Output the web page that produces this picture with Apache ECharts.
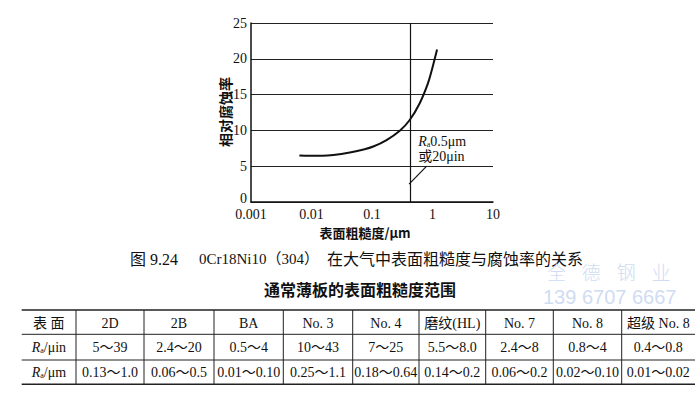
<!DOCTYPE html>
<html><head><meta charset="utf-8">
<script src="https://cdn.jsdelivr.net/npm/echarts@6/dist/echarts.min.js"></script>
<style>html,body{margin:0;padding:0;background:#fff}#c{width:700px;height:394px}</style>
</head><body><div id="c"></div>
<script>
// ---- data ----
const roughness     = [0.0063, 0.0095, 0.015, 0.023, 0.043, 0.07, 0.105, 0.174, 0.288, 0.42, 0.615, 0.843, 1.0, 1.19];
const corrosionRate = [6.5,    6.45,   6.45,  6.55,  6.9,   7.3,  7.75,  8.65,  9.95,  11.45, 13.8, 16.6, 18.8, 21.3];
const xTickLabels = ['0.001', '0.01', '0.1', '1', '10'];
const yTickLabels = ['0', '5', '10', '15', '20', '25'];
const refLineX = 0.43;
const leaderLine = [[0.41, 2.5], [0.8, 5.0]];
const noteAnchor = [0.59, 7.4];
const yAxisName = '相对腐蚀率';
const xAxisName = '表面粗糙度/μm';
const captionParts = ['图 9.24', '0Cr18Ni10（304）', '在大气中表面粗糙度与腐蚀率的关系'];
const tableTitle = '通常薄板的表面粗糙度范围';
const tableHeader = ['表 面', '2D', '2B', 'BA', 'No. 3', 'No. 4', '磨纹(HL)', 'No. 7', 'No. 8', '超级 No. 8'];
const rowLabels = ['{i|R}{s|a}{n|/μin}', '{i|R}{s|a}{n|/μm}'];
const rowUin = ['5～39', '2.4～20', '0.5～4', '10～43', '7～25', '5.5～8.0', '2.4～8', '0.8～4', '0.4～0.8'];
const rowUm  = ['0.13～1.0', '0.06～0.5', '0.01～0.10', '0.25～1.1', '0.18～0.64', '0.14～0.2', '0.06～0.2', '0.02～0.10', '0.01～0.02'];
const watermark1 = '全   德   钢   业';
const watermark2 = '139 6707 6667';

// ---- layout ----
const SERIF = '"Liberation Serif","Noto Sans CJK SC",serif';
const colEdges = [21.7, 76, 144, 214, 283.3, 352.7, 419, 485.7, 553.3, 621.7, 695];
const rowLines = [310, 334.3, 360, 384.3];
const rowCenters = [323, 347.5, 372];
const captionX = [130, 199, 327];
const captionFont = ['16px ' + SERIF, '15px ' + SERIF, '16px ' + SERIF];

const chart = echarts.init(document.getElementById('c'), null, {renderer: 'svg'});

const graphics = [];
// axis names
graphics.push({type:'text', x:225, y:112, rotation: Math.PI/2, style:{text:yAxisName, font:'bold 14px "Noto Sans CJK SC"', fill:'#111', align:'center', verticalAlign:'middle'}});
graphics.push({type:'text', x:365, y:232, style:{text:xAxisName, font:'bold 13px "Noto Sans CJK SC"', fill:'#111', align:'center', verticalAlign:'middle'}});
// caption
captionParts.forEach((t, i) => {
  graphics.push({type:'text', x:captionX[i], y:259, style:{text:t, font:captionFont[i], fill:'#111', align:'left', verticalAlign:'middle'}});
});
// watermark
graphics.push({type:'text', x:547, y:273, style:{text:watermark1, font:'300 19px "Liberation Sans","Noto Sans CJK SC"', fill:'#d0dcf2', align:'left', verticalAlign:'middle'}});
graphics.push({type:'text', x:543, y:297, style:{text:watermark2, font:'20px "Liberation Sans"', fill:'#d0dcf2', align:'left', verticalAlign:'middle'}});
// table title
graphics.push({type:'text', x:360, y:289, style:{text:tableTitle, font:'bold 16px "Noto Sans CJK SC"', fill:'#111', align:'center', verticalAlign:'middle'}});
// table lines
rowLines.forEach((y, i) => {
  const thick = (i === 0 || i === rowLines.length - 1);
  graphics.push({type:'line', shape:{x1:colEdges[0], y1:y, x2:colEdges[colEdges.length-1], y2:y}, style:{stroke:'#222', lineWidth: thick ? 1.6 : 1}});
});
for (let i = 1; i < colEdges.length - 1; i++) {
  graphics.push({type:'line', shape:{x1:colEdges[i], y1:rowLines[0], x2:colEdges[i], y2:rowLines[rowLines.length-1]}, style:{stroke:'#222', lineWidth:1}});
}
const rich = {
  i: {fontFamily:'"Liberation Serif"', fontStyle:'italic', fontSize:14, fill:'#111'},
  s: {fontFamily:'"Liberation Serif"', fontSize:8, fill:'#111', padding:[6,0,0,0]},
  n: {fontFamily:'"Liberation Serif"', fontSize:14, fill:'#111'}
};
function cellText(txt, col, row, isRich) {
  const cx = (colEdges[col] + colEdges[col+1]) / 2;
  const st = {text: txt, x: cx, y: rowCenters[row], font: '14px ' + SERIF, fill:'#111', align:'center', verticalAlign:'middle'};
  if (isRich) st.rich = rich;
  graphics.push({type:'text', style: st});
}
tableHeader.forEach((t, c) => cellText(t, c, 0, false));
rowLabels.forEach((t, r) => cellText(t, 0, r + 1, true));
rowUin.forEach((t, c) => cellText(t, c + 1, 1, false));
rowUm.forEach((t, c) => cellText(t, c + 1, 2, false));

const option = {
  backgroundColor: '#fff',
  animation: false,
  grid: {left: 251, right: 207, top: 23, bottom: 192, outerBoundsMode: 'none', containLabel: false},
  xAxis: {
    type: 'log', logBase: 10, min: 0.001, max: 10,
    axisLine: {show: true, lineStyle: {color: '#111', width: 1.5}},
    axisTick: {show: false},
    splitLine: {show: false},
    minorTick: {show: false},
    axisLabel: {
      margin: 5, color: '#111', fontFamily: '"Liberation Serif"', fontSize: 14, lineHeight: 14,
      formatter: v => xTickLabels[Math.round(Math.log10(v)) + 3]
    }
  },
  yAxis: {
    type: 'value', min: 0, max: 25, interval: 5,
    axisLine: {show: true, lineStyle: {color: '#111', width: 1.5}},
    axisTick: {show: false},
    splitLine: {show: true, lineStyle: {color: '#222', width: 1}},
    axisLabel: {
      margin: 4, color: '#111', fontFamily: '"Liberation Serif"', fontSize: 14, lineHeight: 14,
      formatter: v => {
        const t = yTickLabels[Math.round(v / 5)];
        return v === 0 ? '{z|' + t + '}' : t;
      },
      rich: {z: {fontFamily: '"Liberation Serif"', fontSize: 14, lineHeight: 14, color: '#111', padding: [0, 0, 7, 0]}}
    }
  },
  series: [{
    type: 'line',
    data: roughness.map((x, i) => [x, corrosionRate[i]]),
    smooth: 0.4,
    showSymbol: false,
    lineStyle: {color: '#111', width: 2},
    silent: true,
    markLine: {
      silent: true, symbol: ['none', 'none'], animation: false,
      label: {show: false},
      lineStyle: {color: '#111', width: 1.2, type: 'solid'},
      data: [
        {xAxis: refLineX},
        [{coord: leaderLine[0]}, {coord: leaderLine[1]}]
      ]
    },
    markPoint: {
      silent: true, animation: false,
      symbol: 'circle', symbolSize: 1,
      itemStyle: {color: 'rgba(0,0,0,0)'},
      label: {
        show: true, position: [0, 0], align: 'left', verticalAlign: 'middle',
        formatter: '{i|R}{s|a}{n|0.5μm}\n{n|或20μin}',
        rich: {
          i: {fontFamily: '"Liberation Serif"', fontStyle: 'italic', fontSize: 14, color: '#111', lineHeight: 15},
          s: {fontFamily: '"Liberation Serif"', fontSize: 8, color: '#111', lineHeight: 15, padding: [6, 0, 0, 0]},
          n: {fontFamily: '"Liberation Serif","Noto Sans CJK SC"', fontSize: 14, color: '#111', lineHeight: 15}
        }
      },
      data: [{coord: noteAnchor}]
    }
  }],
  graphic: graphics
};
chart.setOption(option);
</script>
</body></html>
